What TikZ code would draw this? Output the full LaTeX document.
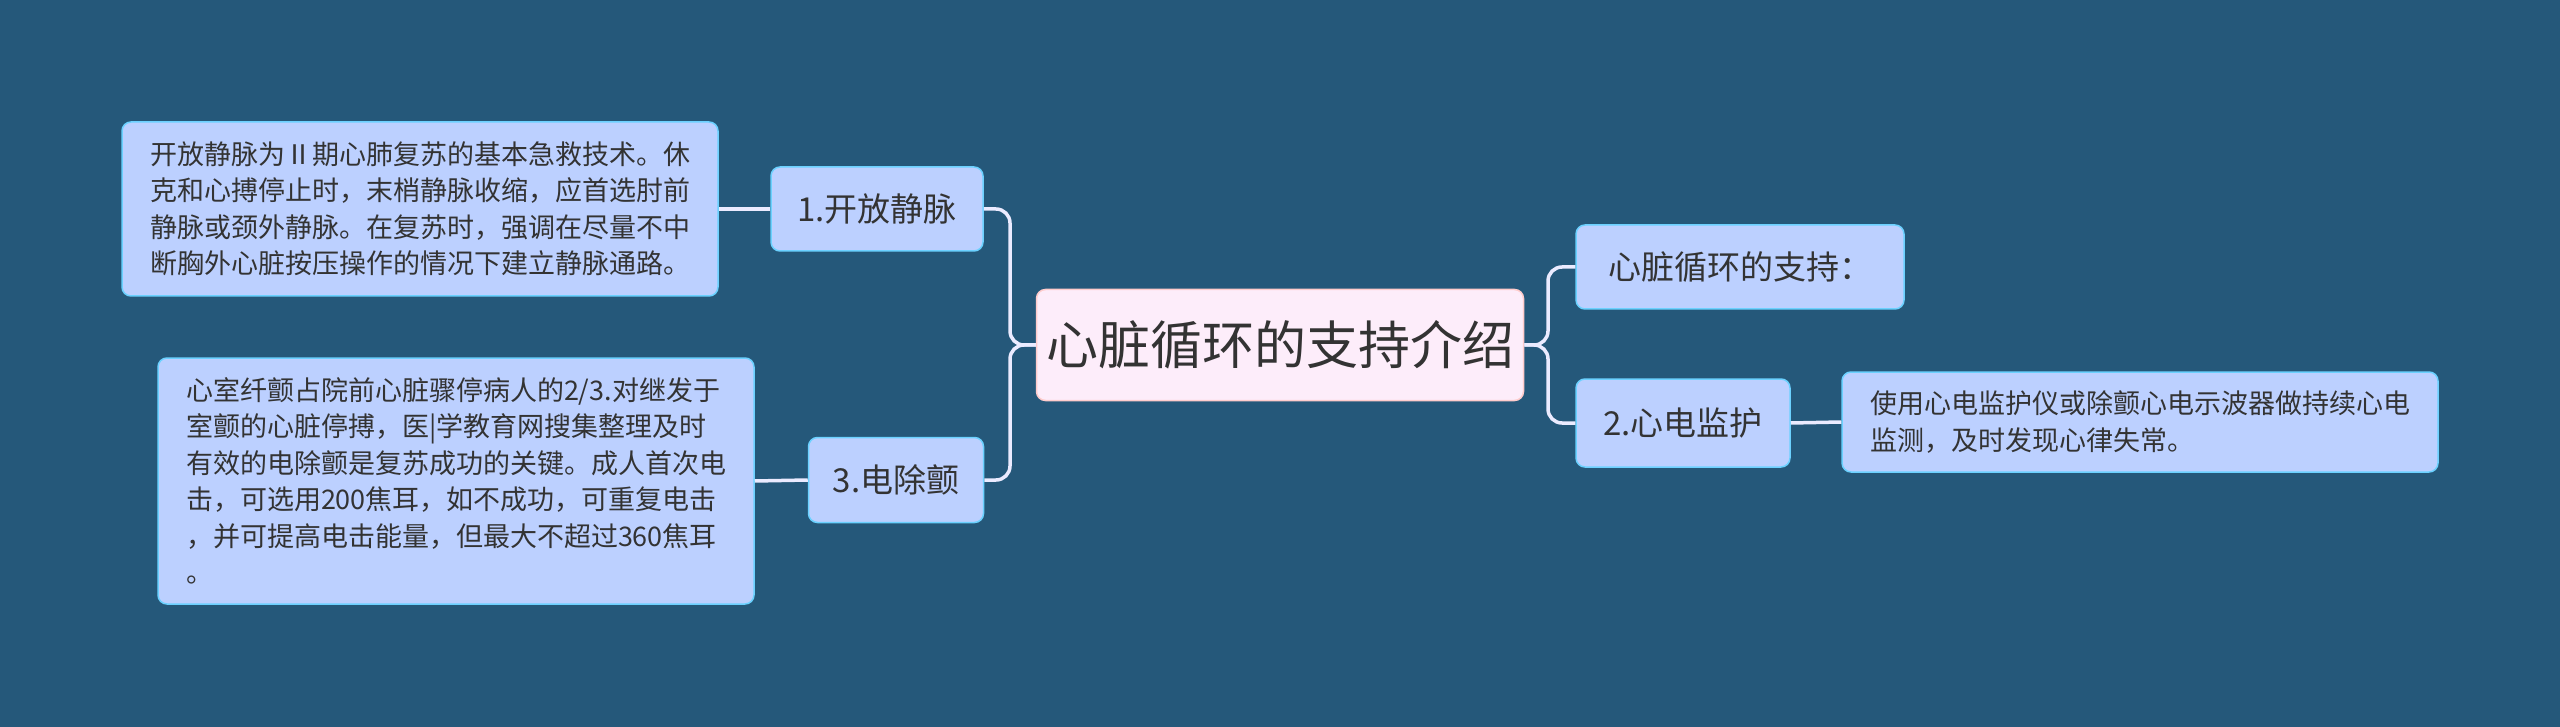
\documentclass[tikz,border=0pt]{standalone}
\usepackage{fontspec}
\setmainfont{Noto Sans CJK SC}
\begin{document}
\begin{tikzpicture}[x=1pt,y=-1pt,
  box/.style={draw=#1,line width=1.5pt,rounded corners=9pt,inner sep=0pt,text=black!80},
  leaf/.style={box=white!70!blue!60!cyan,fill=blue!20!white!92!cyan,font=\fontsize{27}{36.5}\selectfont,align=left},
  mid/.style={box=white!70!blue!60!cyan,fill=blue!20!white!92!cyan,font=\fontsize{33}{40}\selectfont},
  link/.style={draw=white!92!blue,line width=3.5pt,rounded corners=14pt}]
\fill[fill={rgb,255:red,37;green,88;blue,122}] (0,0) rectangle (2560,727);
\useasboundingbox (0,0) rectangle (2560,727);
\node[box=pink!80!white,fill={rgb,255:red,253;green,237;blue,250},font=\fontsize{52}{60}\selectfont,minimum width=487pt,minimum height=111pt] (root) at (1280,345) {心脏循环的支持介绍};
\node[mid,minimum width=212pt,minimum height=84pt] (b1) at (877,209) {1.开放静脉};
\node[mid,minimum width=175pt,minimum height=85pt] (b3) at (896,480) {3.电除颤};
\node[mid,minimum width=328pt,minimum height=84pt] (r1) at (1740,267) {心脏循环的支持：};
\node[mid,minimum width=214pt,minimum height=88pt] (b2) at (1683,423) {2.心电监护};
\node[leaf,minimum width=596pt,minimum height=174pt] (tA) at (420,209) {开放静脉为Ⅱ期心肺复苏的基本急救技术。休\\克和心搏停止时，末梢静脉收缩，应首选肘前\\静脉或颈外静脉。在复苏时，强调在尽量不中\\断胸外心脏按压操作的情况下建立静脉通路。};
\node[leaf,minimum width=596pt,minimum height=246pt] (tB) at (456,481) {心室纤颤占院前心脏骤停病人的2/3.对继发于\\室颤的心脏停搏，医|学教育网搜集整理及时\\有效的电除颤是复苏成功的关键。成人首次电\\击，可选用200焦耳，如不成功，可重复电击\\，并可提高电击能量，但最大不超过360焦耳\\。};
\node[leaf,minimum width=596pt,minimum height=100pt] (tC) at (2140,422) {使用心电监护仪或除颤心电示波器做持续心电\\监测，及时发现心律失常。};
\coordinate (jl) at (1010,345);
\coordinate (jr) at (1548,345);
\draw[link] (root.west) -- (jl) |- (b1.east);
\draw[link] (root.west) -- (jl) |- (b3.east);
\draw[link] (root.east) -- (jr) |- (r1.west);
\draw[link] (root.east) -- (jr) |- (b2.west);
\draw[link] (b1.west) -- (tA.east);
\draw[link] (b3.west) -- (tB.east);
\draw[link] (b2.east) -- (tC.west);
\end{tikzpicture}
\end{document}
